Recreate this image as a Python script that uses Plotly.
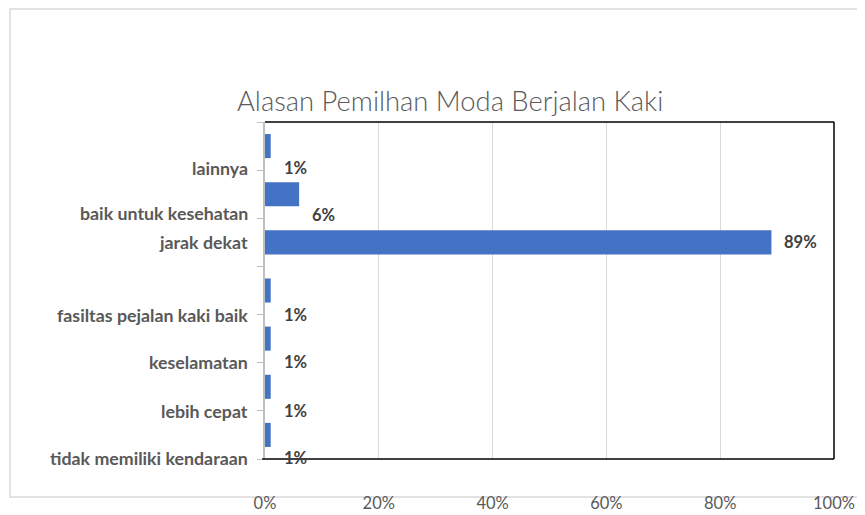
import plotly.graph_objects as go

# Data (top to bottom as shown in the chart)
categories = ["lainnya", "baik untuk kesehatan", "jarak dekat",
              "fasiltas pejalan kaki baik", "keselamatan", "lebih cepat",
              "tidak memiliki kendaraan"]
values = [0.01, 0.06, 0.89, 0.01, 0.01, 0.01, 0.01]
value_labels = ["1%", "6%", "89%", "1%", "1%", "1%", "1%"]
x_ticks = [0, 0.2, 0.4, 0.6, 0.8, 1.0]
x_tick_labels = ["0%", "20%", "40%", "60%", "80%", "100%"]
title = "Alasan Pemilhan Moda Berjalan Kaki"

n = len(categories)
ypos = [n - 1 - i for i in range(n)]

# label vertical placement (styling): offset from bar centre (category units) + pixel nudge
label_offsets = [-0.5, -0.5, 0.0, -0.5, -0.5, -0.5, -0.5]
label_nudge = [2, 5, 0, 0, 1, 0, 1]
value_nudge = [2, 3, 0, 0, 1, 0, 1]

# page is offset by the default 8px body margin
OFF = 8
W, H = 865 - OFF, 515 - OFF
L, R, T, B = 265 - OFF, 834 - OFF, 122 - OFF, 459 - OFF
pw, ph = R - L, B - T

FONT = "Lato, Carlito, sans-serif"

fig = go.Figure()
fig.add_trace(go.Bar(
    x=values, y=ypos, orientation="h",
    marker=dict(color="#4472C4", line=dict(width=0)),
    width=0.5, hoverinfo="skip"))

ann = []
lab_font = dict(family=FONT, size=17.8, color="#595959")
val_font = dict(family=FONT, size=16.5, color="#404040")
for i, (c, v, vl) in enumerate(zip(categories, values, value_labels)):
    yl = ypos[i] + label_offsets[i]
    ann.append(dict(x=0, xref="paper", y=yl, yref="y", text="<b>%s</b>" % c,
                    showarrow=False, xanchor="right", yanchor="middle",
                    xshift=-15, yshift=label_nudge[i], font=lab_font))
    ann.append(dict(x=v, xref="x", y=yl, yref="y", text="<b>%s</b>" % vl,
                    showarrow=False, xanchor="left", yanchor="middle",
                    xshift=11, yshift=value_nudge[i], font=val_font))

ann.append(dict(x=(450 - OFF - L) / pw, xref="paper", y=(B - (101 - OFF)) / ph, yref="paper",
                text=title, showarrow=False, xanchor="center", yanchor="middle",
                font=dict(family=FONT, size=27.4, color="#595959", weight=300)))

shapes = [
    # chart area border
    dict(type="rect", xref="paper", yref="paper",
         x0=(10 - OFF - L) / pw, x1=(880 - OFF - L) / pw,
         y0=(B - (497 - OFF)) / ph, y1=(B - (9 - OFF)) / ph,
         line=dict(color="#D9D9D9", width=1.5), layer="below"),
    # plot area border (top, right, bottom)
    dict(type="line", xref="paper", yref="paper", x0=0, x1=1, y0=1, y1=1,
         line=dict(color="#000000", width=1.5)),
    dict(type="line", xref="paper", yref="paper", x0=1, x1=1, y0=0, y1=1,
         line=dict(color="#000000", width=1.5)),
    dict(type="line", xref="paper", yref="paper", x0=-0.005, x1=1, y0=0, y1=0,
         line=dict(color="#000000", width=1.5)),
]

fig.update_layout(
    width=W, height=H,
    margin=dict(l=L, r=W - R, t=T, b=H - B, pad=0, autoexpand=False),
    paper_bgcolor="white", plot_bgcolor="white",
    showlegend=False,
    annotations=ann, shapes=shapes,
    xaxis=dict(range=[0, 1], tickvals=x_ticks, ticktext=x_tick_labels,
               automargin=False,
               showgrid=True, gridcolor="#D9D9D9", gridwidth=1,
               zeroline=False, showline=False, ticks="",
               ticklabelstandoff=32,
               tickfont=dict(family=FONT, size=16.5, color="#595959")),
    yaxis=dict(range=[-0.5, n - 0.5], automargin=False,
               tickvals=[k - 0.5 for k in range(n + 1)],
               ticktext=["" for _ in range(n + 1)],
               ticks="outside", ticklen=6, tickcolor="#BFBFBF", tickwidth=1,
               showgrid=False, zeroline=False,
               showline=True, linecolor="#BFBFBF", linewidth=1.5),
)

fig.write_html("out.html")
